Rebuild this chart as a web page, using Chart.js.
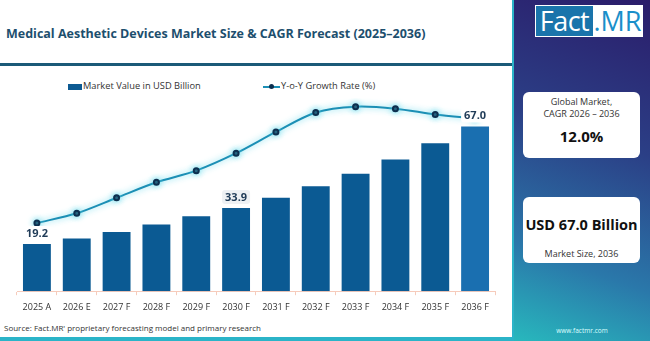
<!DOCTYPE html>
<html>
<head>
<meta charset="utf-8">
<script src="https://cdn.jsdelivr.net/npm/chart.js@4.4.1/dist/chart.umd.min.js"></script>
<style>
  html, body { margin: 0; padding: 0; }
  body { width: 650px; height: 341px; position: relative; overflow: hidden; font-family: 'Open Sans', sans-serif; background: #fff; }
  #left { position: absolute; left: 0; top: 0; width: 512px; height: 337px; background: #fff; border-right: 2px solid #2bb4c8; border-bottom: 4px solid #2bb4c8; }
  #title { position: absolute; left: 6px; top: 25px; font-size: 12.5px; font-weight: 700; color: #1d4f6e; white-space: nowrap; }
  #rule { position: absolute; left: 0; top: 63px; width: 512px; height: 3px; background: #1b5a78; }
  #legend { position: absolute; top: 79px; left: 0; font-size: 9.3px; color: #333; }
  .lg { position: absolute; white-space: nowrap; top: 0; }
  .lg1 { left: 68px; }
  .lg2 { left: 263px; }
  .box { display: inline-block; width: 14px; height: 6px; background: #0d5a92; vertical-align: middle; margin-right: 1px; }
  .ln { display: inline-block; width: 17px; height: 2px; background: #1c8fb5; vertical-align: middle; position: relative; margin-right: 1px; }
  .ln::after { content: ''; position: absolute; left: 6px; top: -2px; width: 5px; height: 5px; border-radius: 50%; background: #0d2f4f; }
  #wrap { position: absolute; left: 0; top: 98px; width: 512px; height: 222px; }
  #source { position: absolute; left: 4px; top: 322px; font-size: 8px; color: #333; white-space: nowrap; }
  #right { position: absolute; left: 514px; top: 0; width: 136px; height: 341px; background: linear-gradient(200deg, #2b1c6a 0%, #2b3f86 40%, #2a78aa 75%, #28b8bd 100%); }
  #logo { position: absolute; left: 21px; top: 5px; width: 106px; height: 30px; border: 1px solid #fff; background: #fff; display: flex; }
  #logo .a { background: #1a74ab; color: #fff; font-size: 27px; line-height: 30px; width: 57px; text-align: center; letter-spacing: -0.5px; }
  #logo .b { color: #1a8fca; font-size: 27px; line-height: 30px; flex: 1; text-align: center; font-weight: 400; }
  .card { position: absolute; left: 9px; width: 117px; background: #fff; border-radius: 6px; text-align: center; color: #333; }
  #c1 { top: 92px; height: 66px; }
  #c2 { top: 197px; height: 66px; }
  .sm { font-size: 9px; line-height: 12px; }
  .big { font-weight: 700; color: #111; }
  #foot { position: absolute; left: 0; width: 136px; top: 326px; text-align: center; font-size: 6.5px; color: #dff; }
</style>
</head>
<body>
<div id="left">
  <div id="title">Medical Aesthetic Devices Market Size &amp; CAGR Forecast (2025–2036)</div>
  <div id="rule"></div>
  <div id="legend">
    <div class="lg lg1"><span class="box"></span>Market Value in USD Billion</div>
    <div class="lg lg2"><span class="ln"></span>Y-o-Y Growth Rate (%)</div>
  </div>
  <div id="wrap"><canvas id="chart"></canvas></div>
  <div id="source">Source: Fact.MR' proprietary forecasting model and primary research</div>
</div>
<div id="right">
  <div id="logo"><div class="a">Fact</div><div class="b">.MR</div></div>
  <div class="card" id="c1">
    <div class="sm" style="margin-top:4px">Global Market,<br>CAGR 2026 – 2036</div>
    <div class="big" style="font-size:15px;margin-top:6px">12.0%</div>
  </div>
  <div class="card" id="c2">
    <div class="big" style="font-size:14.5px;margin-top:18px">USD 67.0 Billion</div>
    <div class="sm" style="margin-top:14px">Market Size, 2036</div>
  </div>
  <div id="foot">www.factmr.com</div>
</div>
<script>
// chart data
let years = ['2025 A', '2026 E', '2027 F', '2028 F', '2029 F', '2030 F', '2031 F', '2032 F', '2033 F', '2034 F', '2035 F', '2036 F']
let marketValue = [19.2, 21.5, 24.1, 27.1, 30.5, 33.9, 38.0, 42.7, 47.8, 53.6, 60.2, 67.0]
let growthRate = [8.0, 8.5, 9.3, 10.1, 10.7, 11.6, 12.7, 13.7, 14.0, 13.9, 13.6, 13.4]
let labelled = [0, 5, 11] // bars with a value tag

let barColors = marketValue.map((v, i) => i == 11 ? '#1a6fb0' : '#0b5a93')

// value tags over some bars
let tagPlugin = {
    id: 'tags',
    afterDatasetsDraw(chart) {
        let ctx = chart.ctx
        let meta = chart.getDatasetMeta(1)
        ctx.save()
        ctx.font = 'bold 11px "Open Sans", sans-serif'
        ctx.textAlign = 'center'
        ctx.textBaseline = 'middle'
        labelled.forEach(i => {
            let bar = meta.data[i]
            let txt = marketValue[i].toFixed(1)
            let w = ctx.measureText(txt).width + 6
            let y = bar.y - 11
            ctx.fillStyle = i == 5 ? '#eef1f4' : '#ffffff'
            ctx.beginPath()
            ctx.roundRect(bar.x - w / 2, y - 7, w, 14, 3)
            ctx.fill()
            ctx.fillStyle = '#1f3b57'
            ctx.fillText(txt, bar.x, y + 0.5)
        })
        ctx.restore()
    }
}

// soft glow under the growth line
let glowPlugin = {
    id: 'glow',
    beforeDatasetDraw(chart, args) {
        if (args.index == 0) {
            chart.ctx.save()
            chart.ctx.shadowColor = 'rgba(90, 215, 235, 0.9)'
            chart.ctx.shadowBlur = 6
        }
    },
    afterDatasetDraw(chart, args) {
        if (args.index == 0) chart.ctx.restore()
    }
}

let ctx = document.getElementById('chart').getContext('2d')

let graph = new Chart(ctx, {
    data: {
        labels: years,
        datasets: [
            {
                type: 'line',
                label: 'Y-o-Y Growth Rate (%)',
                data: growthRate,
                yAxisID: 'y1',
                borderColor: '#1c8fb5',
                borderWidth: 2,
                tension: 0.3,
                pointRadius: 2.5,
                pointBackgroundColor: '#0d2f4f',
                pointBorderColor: '#0d2f4f',
                clip: false,
                order: 0,
            },
            {
                type: 'bar',
                label: 'Market Value in USD Billion',
                data: marketValue,
                yAxisID: 'y',
                backgroundColor: barColors,
                categoryPercentage: 0.7,
                barPercentage: 1,
                order: 1,
            },
        ]
    },
    options: {
        responsive: true,
        maintainAspectRatio: false,
        animation: false,
        layout: { padding: { left: 17, right: 17, top: 0, bottom: 0 } },
        plugins: {
            legend: { display: false },
            tooltip: { enabled: false },
        },
        scales: {
            x: {
                grid: { display: true, drawOnChartArea: false, drawTicks: true, tickLength: 4, color: '#f6cbbb' },
                border: { display: true, color: '#f6cbbb' },
                ticks: { color: '#333', font: { size: 9, family: 'Open Sans' }, padding: 7, maxRotation: 0 },
            },
            y: { display: false, min: 0, max: 76.2 },
            y1: { display: false, min: 4.48, max: 14.14 },
        }
    },
    plugins: [tagPlugin, glowPlugin]
})
</script>
</body>
</html>
